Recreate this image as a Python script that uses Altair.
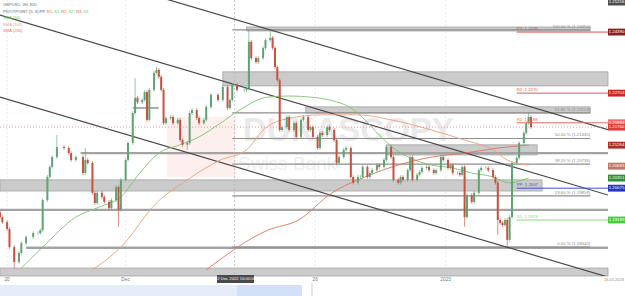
import altair as alt
import pandas as pd

# ---------------- data ----------------
T = [0,1,3,4,6,8,9,11,14,16, 17,18,20,21,22,24,27,29,30,32,
     35,36,37,39,40,41,43,44,46,47, 49,50,51,53,54,56,57,58,60,61,
     62,63,65,66,67,68,69,70,72,73, 75,76,77,79,80,81,83,84,86,87,
     89,92,94,96,97,98,100,103,104,105, 106,108,109,111,112,114,115,116,117,118,
     119,121,122,124,125,127,128,130,131,132, 134,135,136,138,139,141,142,143,145,146,
     148,149,151,152,153,155,156,157,159,160, 162,163,165,166,168,169,170,172,173,174,
     176,177,178,180,181,183,184,186,187,189, 190,191,193,194,195,196,197,199,200,202,
     203,205,206,208,209,210,211,212,213,214, 215,216,218,219,221,222,223,224]
CLOSE = [1.1927,1.1913,1.1894,1.1844,1.1803,1.1828,1.1855,1.1872,1.1883,1.1883,
         1.1891,1.1974,1.2038,1.2066,1.2093,1.2121,1.2118,1.2104,1.2085,1.2093,
         1.2049,1.2085,1.2077,1.1994,1.1966,1.1994,1.1983,1.1969,1.1952,1.1974,
         1.2010,1.1947,1.2030,1.2085,1.2132,1.2215,1.2257,1.2245,1.2251,1.2273,
         1.2196,1.2279,1.2326,1.2334,1.2315,1.2279,1.2187,1.2201,1.2204,1.2187,
         1.2196,1.2140,1.2127,1.2132,1.2215,1.2223,1.2201,1.2187,1.2196,1.2232,
         1.2265,1.2251,1.2287,1.2229,1.2251,1.2293,1.2279,1.2279,1.2284,1.2412,
         1.2367,1.2356,1.2367,1.2395,1.2417,1.2423,1.2395,1.2342,1.2306,1.2168,
         1.2176,1.2204,1.2168,1.2187,1.2149,1.2196,1.2204,1.2168,1.2176,1.2149,
         1.2118,1.2160,1.2154,1.2176,1.2168,1.2140,1.2077,1.2093,1.2113,1.2118,
         1.2038,1.2022,1.2038,1.2038,1.2066,1.2038,1.2049,1.2057,1.2071,1.2066,
         1.2085,1.2121,1.2093,1.2030,1.2022,1.2038,1.2030,1.2057,1.2093,1.2030,
         1.2044,1.2052,1.2063,1.2066,1.2057,1.2049,1.2057,1.2093,1.2085,1.2063,
         1.2071,1.2049,1.2049,1.2044,1.2066,1.1927,1.1988,1.1969,1.1994,1.2057,
         1.2063,1.2063,1.2057,1.2038,1.2022,1.1919,1.1911,1.1905,1.1919,1.1864,
         1.1927,1.2077,1.2091,1.2132,1.2160,1.2187,1.2204,1.2176]
FIRST_OPEN = 1.1940
WICK = 0.0005
HIGH_OVR = {24: 1.2154, 36: 1.2118, 57: 1.2312, 66: 1.2342, 105: 1.2445, 114: 1.2445, 223: 1.2215}
LOW_OVR = {6: 1.1786, 50: 1.1900, 79: 1.2113, 196: 1.1900, 210: 1.1877, 214: 1.1844}

SMA50_T = [9,18,32,42,51,59,67,76,84,93,101,113,122,131,139,148,154,160,167,173,182,191,199,208,213,216,219,223]
SMA50_P = [1.1786,1.1844,1.1927,1.1955,1.1983,1.2049,1.2104,1.2127,1.2149,1.2187,1.2223,1.2259,1.2262,1.2259,
           1.2251,1.2229,1.2196,1.2154,1.2113,1.2091,1.2071,1.2063,1.2049,1.2038,1.2024,1.2021,1.2027,1.2035]
SMA100_T = [39,51,66,79,93,104,111,119,136,151,165,182,196,208,214,223]
SMA100_P = [1.1781,1.1844,1.1966,1.2030,1.2085,1.2113,1.2168,1.2196,1.2210,1.2210,1.2196,1.2168,1.2140,1.2113,1.2085,1.2071]
SMA200_T = [87,113,126,140,154,168,182,196,210,223]
SMA200_P = [1.1781,1.1891,1.1919,1.1994,1.2038,1.2071,1.2093,1.2104,1.2118,1.2126]

CHANNELS = [(0, 1.2666, 256.5, 1.2169), (0, 1.2486, 256.5, 1.1988), (0, 1.2259, 256.5, 1.1761)]

ZONES = [(104, 249, 1.2453, 1.2442), (94, 256.5, 1.2329, 1.2290), (129, 249, 1.2232, 1.2215),
         (163, 226.6, 1.2127, 1.2099), (0, 228.7, 1.2030, 1.1999), (0, 256.5, 1.1786, 1.1764)]
LEVELS_THICK = [(1.2104, 34, 256.5), (1.1947, 0, 256.5), (1.1842, 11, 256.5)]
LEVELS_THIN = [(1.2229, 56, 67)]

FIB_HIGH, FIB_LOW = 1.2445, 1.1844
FIB_RATIOS = [1.0, 0.618, 0.5, 0.382, 0.236, 0.0]
FIB_NAMES = ["100.00 %", "61.80 %", "50.00 %", "38.20 %", "23.60 %", "0.00 %"]

PIV_NAMES = ["R3", "R2", "R1", "PP", "S1"]
PIV_VALUES = [1.2439, 1.2270, 1.2188, 1.2007, 1.1919]
PIV_COLORS = ["#d9534f", "#e05a5a", "#e86a6a", "#3d4fe0", "#7fe070"]

BADGE_P = [1.2522, 1.2439, 1.2270, 1.2188, 1.2176, 1.2126, 1.2068, 1.2035, 1.2007, 1.1919]
BADGE_L = ["1.25256", "1.24390", "1.22703", "1.21884", "1.21760", "1.21264", "1.20683", "1.20351", "1.20075", "1.19189"]
BADGE_C = ["#4d4d4d", "#8e1f1f", "#c62828", "#ef6a6a", "#e03a3a", "#a8302c", "#c27560", "#2f8f2f", "#2537c8", "#3fcf3f"]

PRICE_TICKS = [1.18, 1.185, 1.19, 1.195, 1.20, 1.205, 1.21, 1.215, 1.22, 1.225, 1.23, 1.235, 1.24, 1.245, 1.25]
XLAB = ["20", "Dec", "26", "2023"]
XLAB_T = [3, 53, 133, 188]
CROSS_T = 99
CROSS_LABEL = "12 Dec 2022 16:00:00"
LAST_CLOSE = 1.2176

LEG = [("GBPUSD, 4H, BID", 3, 5, "#777777"), ("PIVOTPOINT (5, 3):", 3, 11.5, "#666666"),
       ("PP,", 39.5, 11.5, "#3d4fe0"), ("R1,", 46.8, 11.5, "#e05a5a"), ("S1,", 54, 11.5, "#5ccf4f"),
       ("R2,", 61.3, 11.5, "#e05a5a"), ("S2,", 68.6, 11.5, "#5ccf4f"), ("R3,", 76, 11.5, "#e05a5a"),
       ("S3", 83.2, 11.5, "#5ccf4f"), ("SMA (50)", 3, 18, "#6cbf5f"), ("SMA (100)", 3, 24.5, "#ee9f7c"),
       ("SMA (200)", 3, 31, "#e27358")]

# ---------------- build tables ----------------
opens = [FIRST_OPEN] + CLOSE[:-1]
rows = []
for t, o, c in zip(T, opens, CLOSE):
    hi = HIGH_OVR.get(t, max(o, c) + WICK)
    lo = LOW_OVR.get(t, min(o, c) - WICK)
    rows.append(dict(t=t, open=o, close=c, high=hi, low=lo, dir="u" if c >= o else "d"))
candles = pd.DataFrame(rows)

sma = pd.concat([
    pd.DataFrame(dict(t=SMA50_T, p=SMA50_P, s="50")),
    pd.DataFrame(dict(t=SMA100_T, p=SMA100_P, s="100")),
    pd.DataFrame(dict(t=SMA200_T, p=SMA200_P, s="200")),
])
chan = pd.DataFrame(CHANNELS, columns=["x1", "y1", "x2", "y2"])
zones = pd.DataFrame(ZONES, columns=["x1", "x2", "y1", "y2"])
lev_thick = pd.DataFrame(LEVELS_THICK, columns=["p", "x1", "x2"])
lev_thin = pd.DataFrame(LEVELS_THIN, columns=["p", "x1", "x2"])
fib = pd.DataFrame(dict(r=FIB_RATIOS, n=FIB_NAMES))
fib["p"] = FIB_LOW + fib["r"] * (FIB_HIGH - FIB_LOW)
fib["lab"] = [f"{n} ({p:.5f})" for n, p in zip(fib["n"], fib["p"])]
fib["x1"] = 98
fib["x2"] = 249
piv = pd.DataFrame(dict(n=PIV_NAMES, p=PIV_VALUES))
piv["lab"] = [f"{n}: {p:.4f}" for n, p in zip(piv["n"], piv["p"])]
piv["x1"] = 218
piv["x2"] = 256.5
badges = pd.DataFrame(dict(p=BADGE_P, lab=BADGE_L))
xl = pd.DataFrame(dict(t=XLAB_T, lab=XLAB))
one = pd.DataFrame({"a": [0]})
cross = pd.DataFrame({"t": [CROSS_T]})
lastp = pd.DataFrame({"p": [LAST_CLOSE], "x1": [0], "x2": [256.5]})

XS = alt.Scale(domain=[0, 256.5], nice=False, zero=False)
YS = alt.Scale(domain=[1.17640, 1.25277], nice=False, zero=False)
FONT = "Liberation Sans"


def X(f="t"):
    return alt.X(f"{f}:Q", scale=XS, axis=None)


def Y(f):
    return alt.Y(f"{f}:Q", scale=YS, axis=None)


layers = []

# axis + grid carrier
layers.append(alt.Chart(candles).mark_point(opacity=0).encode(
    x=X(),
    y=alt.Y("close:Q", scale=YS, title=None,
            axis=alt.Axis(orient="right", values=PRICE_TICKS, format=".5f", labelFontSize=4.6,
                          labelColor="#8a8a8a", labelFont=FONT, ticks=False, labelPadding=3,
                          domainColor="#9a9a9a", domainWidth=1, grid=True, gridColor="#f1f1f1",
                          gridWidth=0.8)),
))

# vertical grid lines
layers.append(alt.Chart(xl).mark_rule(color="#e6e6e6", strokeWidth=0.8, strokeDash=[2, 2]).encode(
    x=X(), y=alt.value(0), y2=alt.value(276)))

# watermark
layers.append(alt.Chart(one).mark_rect(color="#fcefee").encode(
    x=alt.value(167), x2=alt.value(235), y=alt.value(117), y2=alt.value(177)))
layers.append(alt.Chart(one).mark_text(text="DUKASCOPY", font=FONT, fontSize=33, fontWeight="bold",
                                       color="#eaeaea", align="left", baseline="middle").encode(
    x=alt.value(243), y=alt.value(131)))
layers.append(alt.Chart(one).mark_text(text="Swiss Bank", font=FONT, fontSize=19,
                                       color="#eeeeee", align="left", baseline="middle").encode(
    x=alt.value(238), y=alt.value(164)))

# grey zones and levels
layers.append(alt.Chart(zones).mark_rect(fill="#cbcbcb", stroke="#a5a5a5", strokeWidth=0.8).encode(
    x=X("x1"), x2="x2:Q", y=Y("y1"), y2="y2:Q"))
layers.append(alt.Chart(lev_thick).mark_rule(color="#a3a3a3", strokeWidth=2.4).encode(
    x=X("x1"), x2="x2:Q", y=Y("p")))
layers.append(alt.Chart(lev_thin).mark_rule(color="#8a8a8a", strokeWidth=1.4).encode(
    x=X("x1"), x2="x2:Q", y=Y("p")))

# fib lines + labels
layers.append(alt.Chart(fib).mark_rule(color="#8e8e8e", strokeWidth=1.1).encode(
    x=X("x1"), x2="x2:Q", y=Y("p")))
layers.append(alt.Chart(fib).mark_text(font=FONT, fontSize=4.3, color="#888888", align="right",
                                       baseline="bottom", dy=-1).encode(
    x=X("x2"), y=Y("p"), text="lab:N"))

# channel lines
layers.append(alt.Chart(chan).mark_rule(color="#4a4a4a", strokeWidth=1.2, clip=True).encode(
    x=X("x1"), y=Y("y1"), x2="x2:Q", y2="y2:Q"))

# current price dotted line
layers.append(alt.Chart(lastp).mark_rule(color="#e98b8b", strokeWidth=0.9, strokeDash=[1, 2]).encode(
    x=X("x1"), x2="x2:Q", y=Y("p")))

# moving averages
layers.append(alt.Chart(sma).mark_line(strokeWidth=0.9, clip=True, interpolate="monotone").encode(
    x=X(), y=Y("p"), detail="s:N",
    color=alt.Color("s:N", scale=alt.Scale(domain=["50", "100", "200"],
                                           range=["#7cc46e", "#ee9f7c", "#e27358"]), legend=None)))

# candles
CCOL = alt.Scale(domain=["u", "d"], range=["#5da473", "#c7513f"])
layers.append(alt.Chart(candles).mark_rule(strokeWidth=0.8, opacity=0.8).encode(
    x=X(), y=Y("low"), y2="high:Q", color=alt.Color("dir:N", scale=CCOL, legend=None)))
layers.append(alt.Chart(candles).transform_calculate(x1="datum.t-0.42", x2="datum.t+0.42").mark_rect().encode(
    x=X("x1"), x2="x2:Q", y=Y("open"), y2="close:Q", color=alt.Color("dir:N", scale=CCOL, legend=None)))

# pivot lines + labels
PCOL = alt.Scale(domain=PIV_NAMES, range=PIV_COLORS)
layers.append(alt.Chart(piv).mark_rule(strokeWidth=1).encode(
    x=X("x1"), x2="x2:Q", y=Y("p"), color=alt.Color("n:N", scale=PCOL, legend=None)))
layers.append(alt.Chart(piv).mark_text(font=FONT, fontSize=4.3, align="left", baseline="bottom", dy=-1).encode(
    x=X("x1"), y=Y("p"), text="lab:N", color=alt.Color("n:N", scale=PCOL, legend=None)))

# crosshair
layers.append(alt.Chart(cross).mark_rule(color="#b5b5b5", strokeWidth=0.8, strokeDash=[2, 2]).encode(
    x=X(), y=alt.value(0), y2=alt.value(276)))

# right axis badges
BCOL = alt.Scale(domain=BADGE_L, range=BADGE_C)
layers.append(alt.Chart(badges).transform_calculate(a="datum.p+0.00095", b="datum.p-0.00095").mark_rect().encode(
    x=alt.value(608), x2=alt.value(625), y=Y("a"), y2="b:Q",
    color=alt.Color("lab:N", scale=BCOL, legend=None)))
layers.append(alt.Chart(badges).mark_text(font=FONT, fontSize=4.3, color="white", align="center",
                                          baseline="middle").encode(
    x=alt.value(616.5), y=Y("p"), text="lab:N"))

# x labels
layers.append(alt.Chart(xl).mark_text(font=FONT, fontSize=4.8, color="#777777", align="center",
                                      baseline="middle").encode(
    x=X(), y=alt.value(280), text="lab:N"))
layers.append(alt.Chart(one).mark_text(text="16.01.2023", font=FONT, fontSize=4, color="#888888",
                                       align="right", baseline="middle").encode(
    x=alt.value(624), y=alt.value(280)))
layers.append(alt.Chart(one).mark_rect(color="#4a4a4a").encode(
    x=alt.value(217), x2=alt.value(254), y=alt.value(275), y2=alt.value(283)))
layers.append(alt.Chart(one).mark_text(text=CROSS_LABEL, font=FONT, fontSize=4.2, color="white",
                                       align="center", baseline="middle").encode(
    x=alt.value(235.5), y=alt.value(279)))

# navigator strip
layers.append(alt.Chart(one).mark_rect(color="#e5edfb").encode(
    x=alt.value(0), x2=alt.value(302), y=alt.value(285), y2=alt.value(296)))
layers.append(alt.Chart(one).mark_rect(color="#d3e1f8").encode(
    x=alt.value(237), x2=alt.value(302), y=alt.value(285), y2=alt.value(296)))
layers.append(alt.Chart(one).mark_rule(color="#cfcfcf").encode(
    x=alt.value(312), y=alt.value(283), y2=alt.value(296)))

# legend texts (top left)
for lab, lx, ly, lc in LEG:
    layers.append(alt.Chart(one).mark_text(text=lab, font=FONT, fontSize=4.1, color=lc, align="left",
                                           baseline="middle").encode(
        x=alt.value(lx), y=alt.value(ly)))

chart = alt.layer(*layers).resolve_scale(color="independent").properties(
    width=608, height=276, autosize="none",
    padding={"left": 0, "top": 0, "right": 17, "bottom": 20},
    background="white",
).configure_view(stroke=None)

chart.save("out.html", embed_options={"renderer": "svg", "actions": False})
